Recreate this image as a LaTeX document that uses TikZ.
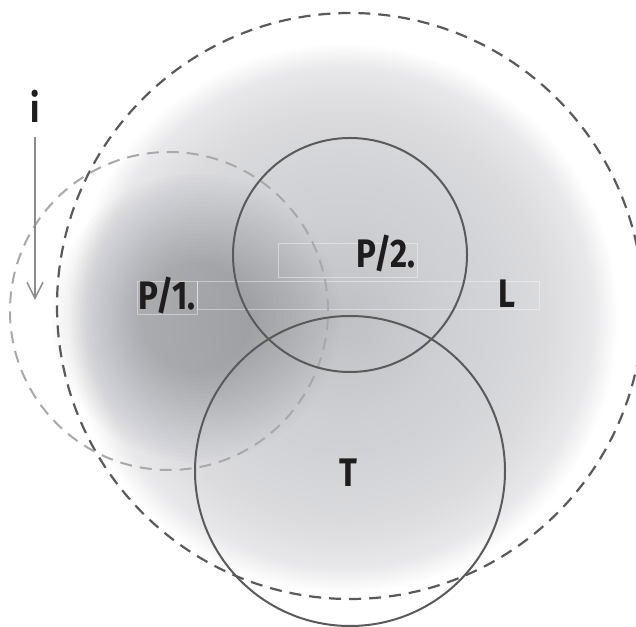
\documentclass[tikz,border=0pt]{standalone}
\usepackage{fontspec}
\usepackage{tikz}
\usetikzlibrary{positioning, arrows.meta, calc}
\usepackage{xcolor}
\newfontfamily\tagfont{Fira Sans}[FakeStretch=0.83]
\definecolor{ink}{HTML}{1E1C1D}
\definecolor{ringgray}{HTML}{5A5A5A}
\definecolor{lightring}{HTML}{A9A9A9}
\definecolor{arrowgray}{HTML}{8C8C8C}
\definecolor{blobtone}{HTML}{2B2D38}
\definecolor{hazeA}{HTML}{BFC0C3}
\definecolor{hazeB}{HTML}{CECFD2}
\definecolor{hazeC}{HTML}{D4D5D8}
\definecolor{hazeD}{HTML}{DCDCDF}
\definecolor{hazeE}{HTML}{E8E8EA}
\pgfdeclareradialshading{haze}{\pgfpointorigin}{color(0bp)=(hazeA); color(8.5bp)=(hazeB); color(13.7bp)=(hazeC); color(17.9bp)=(hazeD); color(21.3bp)=(hazeE); color(23.5bp)=(white); color(50bp)=(white)}

\begin{document}
\begin{tikzpicture}[x=1bp, y=1bp,
    ring/.style={draw=ringgray, line width=2bp},
    outerring/.style={draw=ringgray, line width=2.2bp, dash pattern=on 12bp off 8bp},
    innerring/.style={draw=lightring, line width=2bp, dash pattern=on 12bp off 8bp},
    tag/.style={text=ink, inner sep=0pt, anchor=base,
        font=\tagfont\bfseries\fontsize{40}{40}\selectfont},
    frame/.style={draw=white, opacity=.4, line width=.6bp},
    flow/.style={-{Straight Barb[length=16bp, width=16bp]}, draw=arrowgray, line width=1.5bp}]
    \useasboundingbox (0,0) rectangle (636,627);
    \fill[white] (0,0) rectangle (636,627);
    \shade[shading=haze] (343,309) circle (293);
    \foreach \r in {144,140,...,56}
        \fill[blobtone, opacity=.0106] (196,309) circle (\r);

    \draw[frame] (278,384) rectangle (417,350);
    \draw[frame] (197,346) rectangle (539,318);
    \draw[frame] (137,346) rectangle (197,313);

    \draw[outerring] (350,321) circle (293);
    \draw[innerring] (169,316) circle (159);
    \draw[ring] (350,372) circle (117);
    \draw[ring] (350,156) circle (155);

    \node[tag] (i) at (35,504) {i};
    \node[tag] (p1) at (167,317) {P/1.};
    \node[tag] (p2) at (386,359) {P/2.};
    \node[tag] (l) at (507,319) {L};
    \node[tag] (t) at (348,140) {T};
    \coordinate (iend) at (35,327);
    \draw[flow, shorten <=14bp] (i.south) -- (iend);
\end{tikzpicture}
\end{document}
